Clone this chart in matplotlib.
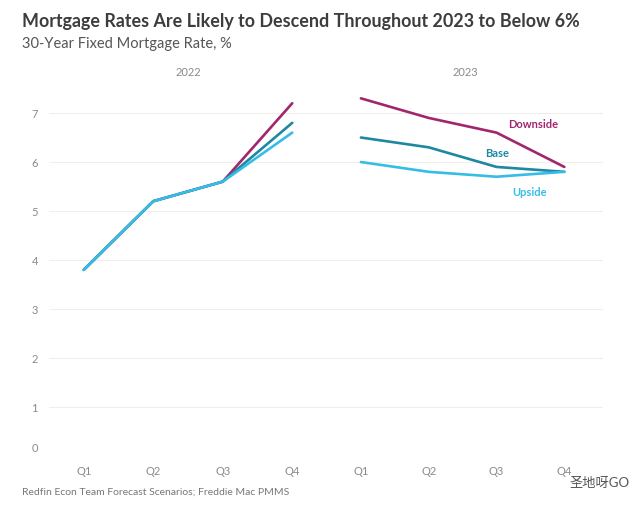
import matplotlib.pyplot as plt
import matplotlib.transforms as mtransforms

plt.rcParams['font.family'] = ['Lato', 'Noto Sans CJK SC', 'DejaVu Sans']

# Data
years = ['2022', '2023']
quarters = ['Q1', 'Q2', 'Q3', 'Q4']
downside_2022 = [3.8, 5.2, 5.6, 7.2]
base_2022 = [3.8, 5.2, 5.6, 6.8]
upside_2022 = [3.8, 5.2, 5.6, 6.6]
downside_2023 = [7.3, 6.9, 6.6, 5.9]
base_2023 = [6.5, 6.3, 5.9, 5.8]
upside_2023 = [6.0, 5.8, 5.7, 5.8]
yticks = [0, 1, 2, 3, 4, 5, 6, 7]

colors = {'Downside': '#a2266c', 'Base': '#1e88a3', 'Upside': '#36bde6'}

fig = plt.figure(figsize=(6.4, 5.05), dpi=100)

W, H = 640, 505
bottom = 1 - 458 / H
height = (458 - 90) / H
ax1 = fig.add_axes([49 / W, bottom, (327 - 49) / W, height])
ax2 = fig.add_axes([327 / W, bottom, (603 - 327) / W, height], sharey=ax1)

series = {
    ax1: [('Downside', downside_2022), ('Base', base_2022), ('Upside', upside_2022)],
    ax2: [('Downside', downside_2023), ('Base', base_2023), ('Upside', upside_2023)],
}

for ax, lines in series.items():
    for name, vals in lines:
        ax.plot(range(len(quarters)), vals, color=colors[name], lw=1.9,
                solid_capstyle='round', zorder=3)
    ax.set_ylim(-0.04, 7.47)
    ax.set_xticks(range(len(quarters)))
    ax.set_xticklabels(quarters)
    for y in yticks[1:]:
        ax.axhline(y, color='#efefef', lw=0.8, zorder=1)
    for s in ax.spines.values():
        s.set_visible(False)
    ax.tick_params(axis='both', length=0, colors='#8a8a8a', labelsize=8)
    ax.tick_params(axis='x', pad=6)

ax1.set_xlim(-0.5, 3.5)
ax2.set_xlim(-0.5, 3.57)
ax1.set_yticks(yticks)
ax1.tick_params(axis='y', pad=8)
ax2.tick_params(axis='y', labelleft=False)

# the bottom label sits a little higher in the original
zero_lbl = ax1.get_yticklabels()[0]
zero_lbl.set_transform(zero_lbl.get_transform() +
                       mtransforms.ScaledTranslation(0, 6 / 72, fig.dpi_scale_trans))

# year headers
fig.text(188 / W, 1 - 72 / H, years[0], ha='center', va='center', fontsize=8, color='#8a8a8a')
fig.text(465 / W, 1 - 72 / H, years[1], ha='center', va='center', fontsize=8, color='#8a8a8a')

# series labels
ax2.text(2.54, 6.76, 'Downside', color=colors['Downside'], fontsize=8, fontweight='bold',
         ha='center', va='center')
ax2.text(2.01, 6.18, 'Base', color=colors['Base'], fontsize=8, fontweight='bold',
         ha='center', va='center')
ax2.text(2.49, 5.37, 'Upside', color=colors['Upside'], fontsize=8, fontweight='bold',
         ha='center', va='center')

fig.text(22 / W, 1 - 22 / H, 'Mortgage Rates Are Likely to Descend Throughout 2023 to Below 6%',
         ha='left', va='center', fontsize=12.9, fontweight='bold', color='#3d3d3d')
fig.text(22 / W, 1 - 44 / H, '30-Year Fixed Mortgage Rate, %',
         ha='left', va='center', fontsize=10.5, color='#555555')
fig.text(22 / W, 1 - 492 / H, 'Redfin Econ Team Forecast Scenarios; Freddie Mac PMMS',
         ha='left', va='center', fontsize=7.5, color='#777777')
fig.text(600 / W, 1 - 483 / H, '圣地呀GO', ha='center', va='center', fontsize=9.5,
         color='#555555')

fig.savefig('out.png', dpi=100)
